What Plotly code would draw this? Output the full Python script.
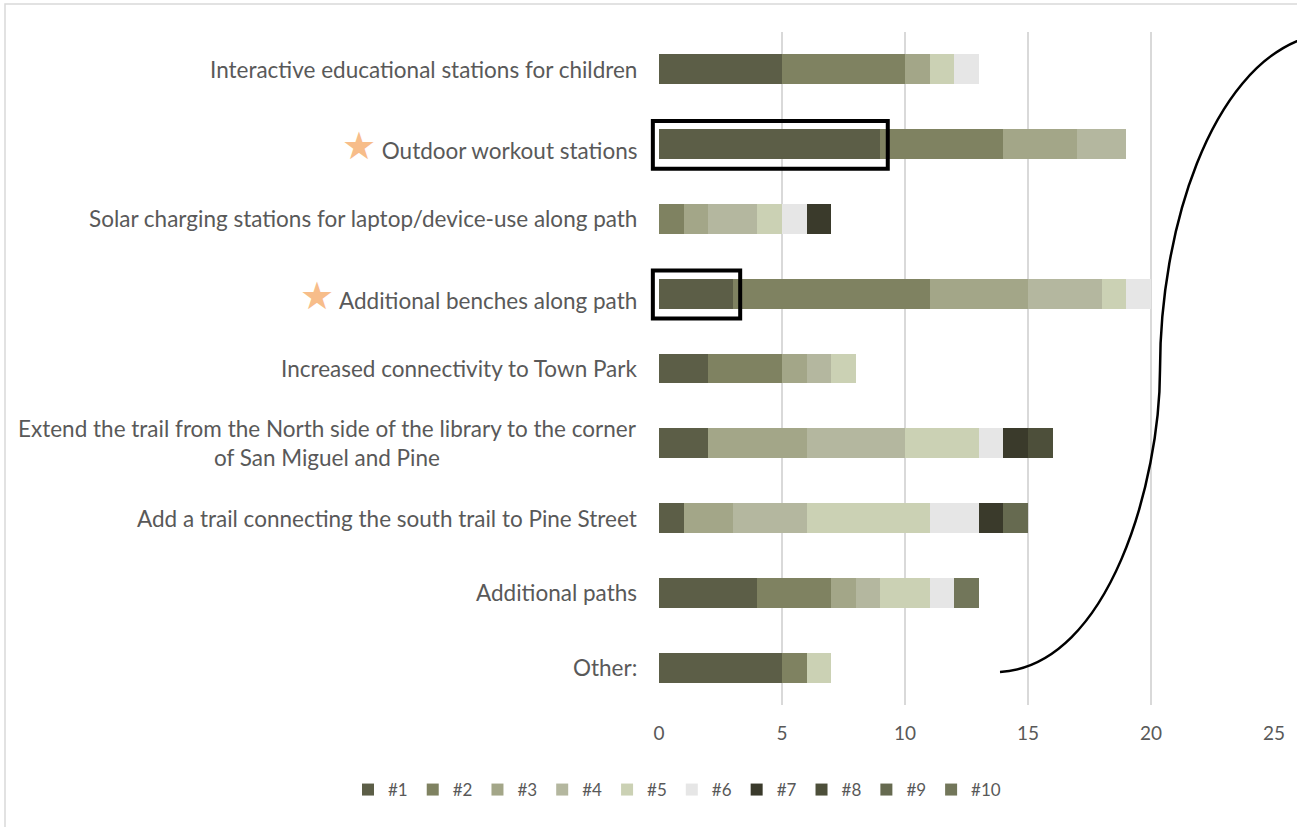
import plotly.graph_objects as go

categories = [
    "Interactive educational stations for children",
    "Outdoor workout stations",
    "Solar charging stations for laptop/device-use along path",
    "Additional benches along path",
    "Increased connectivity to Town Park",
    "Extend the trail from the North side of the library to the corner<br>of San Miguel and Pine",
    "Add a trail connecting the south trail to Pine Street",
    "Additional paths",
    "Other:",
]
starred = [False, True, False, True, False, False, False, False, False]

series_names = ["#1", "#2", "#3", "#4", "#5", "#6", "#7", "#8", "#9", "#10"]
# values per rank, ordered like categories
rank1 = [5, 9, 0, 3, 2, 2, 1, 4, 5]
rank2 = [5, 5, 1, 8, 3, 0, 0, 3, 1]
rank3 = [1, 3, 1, 4, 1, 4, 2, 1, 0]
rank4 = [0, 2, 2, 3, 1, 4, 3, 1, 0]
rank5 = [1, 0, 1, 1, 1, 3, 5, 2, 1]
rank6 = [1, 0, 1, 1, 0, 1, 2, 1, 0]
rank7 = [0, 0, 1, 0, 0, 1, 1, 0, 0]
rank8 = [0, 0, 0, 0, 0, 1, 0, 0, 0]
rank9 = [0, 0, 0, 0, 0, 0, 1, 0, 0]
rank10 = [0, 0, 0, 0, 0, 0, 0, 1, 0]
series_values = [rank1, rank2, rank3, rank4, rank5, rank6, rank7, rank8, rank9, rank10]

colors = ["#5c5e47", "#7f8261", "#a3a688", "#b4b79f", "#cbd1b4",
          "#e6e6e6", "#3a3a2b", "#4d4f3a", "#666a50", "#72765a"]

x_ticks = [0, 5, 10, 15, 20, 25]
x_range = [0, 25]

W, H = 1297, 827
L, R, T, B = 659, 1274, 32, 705

fig = go.Figure()
for name, vals, col in zip(series_names, series_values, colors):
    fig.add_trace(go.Bar(
        y=categories, x=vals, name=name, orientation="h",
        marker=dict(color=col, line=dict(width=0)),
    ))

font_family = "Lato, sans-serif"
txt_col = "#595959"

# category labels as annotations (centered multi-line)
for cat, st in zip(categories, starred):
    text = cat
    if st:
        text = '<span style="color:#f7bd8a;font-size:38px">★</span> ' + cat
    fig.add_annotation(
        x=0, xref="paper", xshift=-20, xanchor="right",
        y=cat, yref="y", yanchor="middle",
        text=text, showarrow=False, align="center",
        font=dict(family=font_family, size=22.5, color=txt_col),
    )

def px(xp):
    return (xp - L) / (R - L)

def py(yp):
    return (B - yp) / (B - T)

def data_to_paper_x(v):
    return (v - x_range[0]) / (x_range[1] - x_range[0])

def cat_to_paper_y(i, off):
    n = len(categories)
    return 1 - (i + 0.5 + off) / n

# highlight boxes around rank #1 segments of starred items (paper refs so they are not clipped)
for i, (st, v) in enumerate(zip(starred, rank1)):
    if st:
        fig.add_shape(type="rect", xref="paper", yref="paper",
                      x0=data_to_paper_x(-0.25), x1=data_to_paper_x(v + 0.3),
                      y0=cat_to_paper_y(i, 0.33), y1=cat_to_paper_y(i, -0.31),
                      line=dict(color="black", width=4), fillcolor="rgba(0,0,0,0)",
                      layer="above")

# decorative brace-like curve
path = (f"M {px(1000)},{py(672)} "
        f"C {px(1110)},{py(665)} {px(1160)},{py(480)} {px(1160)},{py(370)} "
        f"C {px(1160)},{py(230)} {px(1210)},{py(70)} {px(1305)},{py(38)}")
fig.add_shape(type="path", xref="paper", yref="paper", path=path,
              line=dict(color="black", width=2.5), layer="above")

# outer chart border
fig.add_shape(type="rect", xref="paper", yref="paper",
              x0=px(5), x1=px(1320), y0=py(4), y1=py(860),
              line=dict(color="#d9d9d9", width=1.5), fillcolor="rgba(0,0,0,0)")

fig.update_layout(
    width=W, height=H,
    barmode="stack", bargap=0.6,
    plot_bgcolor="white", paper_bgcolor="white",
    margin=dict(l=L, r=W - R, t=T, b=H - B, autoexpand=False),
    font=dict(family=font_family, size=19, color=txt_col),
    xaxis=dict(range=x_range, tickvals=x_ticks, showgrid=True,
               gridcolor="#d9d9d9", gridwidth=1.5, zeroline=False,
               showline=False, ticks="", ticklabelstandoff=15,
               tickfont=dict(family=font_family, size=19, color=txt_col)),
    yaxis=dict(categoryorder="array", categoryarray=categories,
               autorange="reversed", showticklabels=False, showgrid=False,
               zeroline=False, showline=False, ticks=""),
    legend=dict(orientation="h", xref="paper", x=px(348), xanchor="left",
                yref="paper", y=py(790), yanchor="middle",
                font=dict(family=font_family, size=17, color=txt_col),
                traceorder="normal"),
    showlegend=True,
)

fig.write_html("out.html", config={"displayModeBar": False},
               post_script="document.body.style.margin='0';")
